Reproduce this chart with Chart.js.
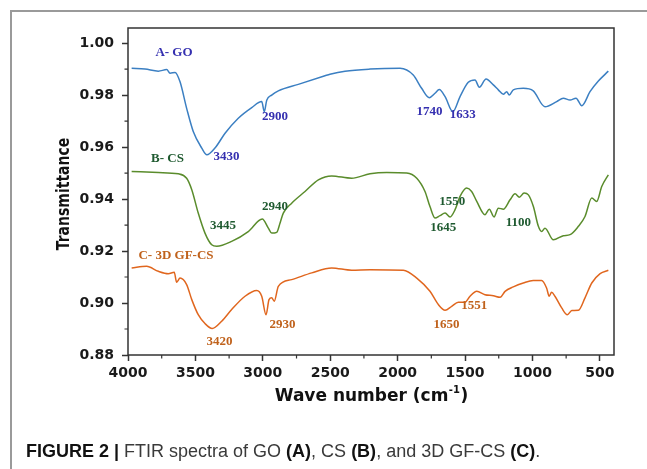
<!DOCTYPE html>
<html>
<head>
<meta charset="utf-8">
<script src="https://cdn.jsdelivr.net/npm/chart.js@4.4.1/dist/chart.umd.min.js"></script>
<style>
  html, body { margin: 0; padding: 0; background: #fff; }
  #wrap { position: relative; width: 647px; height: 469px; overflow: hidden; }
  #frame { position: absolute; left: 10px; top: 10px; width: 700px; height: 500px;
           border-top: 2px solid #9a9a9a; border-left: 2px solid #9a9a9a; }
  #ftir { position: absolute; left: 0; top: 0; }
  #caption { position: absolute; left: 26px; top: 442px; font: 18px "Liberation Sans", Arial, sans-serif;
             line-height: 18px; color: #3a3a3a; white-space: nowrap; }
  #caption b { color: #111; }
</style>
</head>
<body>
<div id="wrap">
  <div id="frame"></div>
  <canvas id="ftir" width="647" height="469"></canvas>
  <div id="caption"><b>FIGURE 2 |</b> FTIR spectra of GO <b>(A)</b>, CS <b>(B)</b>, and 3D GF-CS <b>(C)</b>.</div>
</div>
<script>
// wave numbers (cm-1) and transmittance for each spectrum
const goWave = [3973, 3874, 3775, 3713, 3688, 3651, 3614, 3565, 3516, 3453,
  3415, 3355, 3280, 3182, 3082, 3008, 2989, 2971, 2934, 2885,
  2737, 2539, 2502, 2390, 2205, 1982, 1884, 1822, 1765, 1723,
  1691, 1648, 1590, 1537, 1476, 1426, 1394, 1344, 1290, 1253,
  1216, 1191, 1172, 1142, 1068, 994, 907, 820, 771, 721,
  677, 634, 573, 511, 437];
const goT = [0.9903, 0.9900, 0.9892, 0.9898, 0.9884, 0.9887, 0.9851, 0.9749, 0.9660, 0.9596,
  0.9570, 0.9596, 0.9653, 0.9711, 0.9752, 0.9775, 0.9736, 0.9780, 0.9800, 0.9816,
  0.9841, 0.9874, 0.9880, 0.9892, 0.9900, 0.9903, 0.9877, 0.9826, 0.9790, 0.9807,
  0.9821, 0.9794, 0.9736, 0.9794, 0.9849, 0.9858, 0.9830, 0.9862, 0.9839, 0.9820,
  0.9803, 0.9813, 0.9800, 0.9820, 0.9826, 0.9816, 0.9755, 0.9775, 0.9788, 0.9781,
  0.9788, 0.9759, 0.9813, 0.9854, 0.9892];

const csWave = [3973, 3775, 3627, 3565, 3527, 3479, 3429, 3379, 3342, 3231,
  3108, 3004, 2959, 2934, 2897, 2872, 2848, 2786, 2687, 2588,
  2489, 2341, 2205, 2081, 1933, 1858, 1797, 1760, 1723, 1686,
  1648, 1611, 1574, 1537, 1488, 1451, 1413, 1352, 1320, 1285,
  1253, 1216, 1166, 1129, 1097, 1062, 1030, 993, 956, 932,
  907, 845, 771, 721, 659, 610, 560, 523, 486, 437];
const csT = [0.9506, 0.9502, 0.9497, 0.9480, 0.9436, 0.9346, 0.9269, 0.9224, 0.9218, 0.9237,
  0.9275, 0.9323, 0.9288, 0.9269, 0.9272, 0.9308, 0.9346, 0.9384, 0.9429, 0.9474,
  0.9489, 0.9480, 0.9497, 0.9502, 0.9500, 0.9480, 0.9429, 0.9371, 0.9327, 0.9336,
  0.9346, 0.9331, 0.9359, 0.9410, 0.9442, 0.9429, 0.9391, 0.9340, 0.9361, 0.9331,
  0.9365, 0.9361, 0.9397, 0.9420, 0.9407, 0.9423, 0.9416, 0.9371, 0.9295, 0.9275,
  0.9288, 0.9243, 0.9259, 0.9263, 0.9295, 0.9333, 0.9404, 0.9391, 0.9448, 0.9493];

const gfWave = [3973, 3862, 3775, 3701, 3657, 3639, 3614, 3565, 3527, 3479,
  3429, 3375, 3305, 3231, 3132, 3045, 3008, 2976, 2954, 2934,
  2915, 2885, 2786, 2637, 2489, 2341, 2205, 1958, 1858, 1760,
  1698, 1648, 1599, 1550, 1500, 1463, 1413, 1352, 1290, 1240,
  1203, 1142, 1068, 994, 932, 895, 876, 858, 833, 783,
  741, 708, 659, 610, 560, 498, 437];
const gfT = [0.9135, 0.9141, 0.9122, 0.9113, 0.9118, 0.9080, 0.9096, 0.9071, 0.9013, 0.8955,
  0.8921, 0.8902, 0.8930, 0.8975, 0.9026, 0.9048, 0.9026, 0.8955, 0.9013, 0.9020,
  0.9007, 0.9064, 0.9090, 0.9116, 0.9135, 0.9126, 0.9128, 0.9126, 0.9096, 0.9045,
  0.8994, 0.8972, 0.8987, 0.9003, 0.9003, 0.9026, 0.9045, 0.9032, 0.9028, 0.9022,
  0.9045, 0.9062, 0.9077, 0.9087, 0.9087, 0.9058, 0.9026, 0.9041, 0.9026, 0.8981,
  0.8955, 0.8971, 0.8972, 0.9020, 0.9077, 0.9113, 0.9126];

// axis ticks
const xMajor = [500, 1000, 1500, 2000, 2500, 3000, 3500, 4000];
const xMinor = [750, 1250, 1750, 2250, 2750, 3250, 3750];
const yMajor = [0.88, 0.90, 0.92, 0.94, 0.96, 0.98, 1.00];
const yMinor = [0.89, 0.91, 0.93, 0.95, 0.97, 0.99];

// spectrum names and peak labels: [text, wave number, transmittance]
const goLabels = [["A- GO", 3659, 0.9965], ["3430", 3270, 0.9562], ["2900", 2910, 0.9716],
  ["1740", 1764, 0.9735], ["1633", 1516, 0.9724]];
const csLabels = [["B- CS", 3707, 0.9555], ["3445", 3296, 0.9297], ["2940", 2910, 0.9370],
  ["1550", 1594, 0.9389], ["1645", 1661, 0.9290], ["1100", 1104, 0.9309]];
const gfLabels = [["C- 3D GF-CS", 3644, 0.9182], ["3420", 3322, 0.8852], ["2930", 2854, 0.8917],
  ["1650", 1638, 0.8917], ["1551", 1431, 0.8990]];

const colors = {
  go: { line: "#3b7fc2", text: "#3530b0" },
  cs: { line: "#5a8c2c", text: "#1f5a30" },
  gf: { line: "#e0661e", text: "#c0621c" }
};

function points(wave, t) {
  return wave.map((w, i) => ({ x: w, y: t[i] }));
}

function spectrum(label, wave, t, color) {
  return {
    label: label,
    data: points(wave, t),
    borderColor: color,
    borderWidth: 1.5,
    pointRadius: 0,
    tension: 0.2,
    cubicInterpolationMode: "monotone",
    fill: false
  };
}

const tickFont = { family: "'DejaVu Sans', sans-serif", size: 14, weight: "bold" };

const decorations = {
  id: "decorations",
  afterDraw(chart) {
    const ctx = chart.ctx;
    const a = chart.chartArea;
    const xs = chart.scales.x, ys = chart.scales.y;
    ctx.save();

    // plot frame
    ctx.strokeStyle = "#333";
    ctx.lineWidth = 1.5;
    ctx.strokeRect(a.left, a.top, a.right - a.left, a.bottom - a.top);

    // minor ticks
    ctx.lineWidth = 1.2;
    ctx.beginPath();
    xMinor.forEach(v => {
      const px = xs.getPixelForValue(v);
      ctx.moveTo(px, a.bottom);
      ctx.lineTo(px, a.bottom + 3.5);
    });
    yMinor.forEach(v => {
      const py = ys.getPixelForValue(v);
      ctx.moveTo(a.left, py);
      ctx.lineTo(a.left - 3.5, py);
    });
    ctx.stroke();

    // peak labels
    ctx.font = "bold 13px 'Liberation Serif', 'Times New Roman', serif";
    ctx.textAlign = "center";
    ctx.textBaseline = "middle";
    [[goLabels, colors.go.text], [csLabels, colors.cs.text], [gfLabels, colors.gf.text]].forEach(([list, c]) => {
      ctx.fillStyle = c;
      list.forEach(([txt, w, t]) => {
        ctx.fillText(txt, xs.getPixelForValue(w), ys.getPixelForValue(t));
      });
    });

    // axis titles
    ctx.fillStyle = "#111";
    ctx.save();
    ctx.translate(64, 194);
    ctx.rotate(-Math.PI / 2);
    ctx.scale(1, 1.3);
    ctx.font = "bold 14px 'DejaVu Sans', sans-serif";
    ctx.textAlign = "center";
    ctx.textBaseline = "middle";
    ctx.fillText("Transmittance", 0, 0);
    ctx.restore();

    const main = "Wave number (cm";
    const sup = "-1";
    const close = ")";
    const big = "bold 17px 'DejaVu Sans', sans-serif";
    const small = "bold 10px 'DejaVu Sans', sans-serif";
    ctx.font = big;
    const w1 = ctx.measureText(main).width;
    const w3 = ctx.measureText(close).width;
    ctx.font = small;
    const w2 = ctx.measureText(sup).width;
    const cx = (a.left + a.right) / 2;
    let x0 = cx - (w1 + w2 + w3) / 2;
    const base = 401;
    ctx.textAlign = "left";
    ctx.textBaseline = "alphabetic";
    ctx.font = big;
    ctx.fillText(main, x0, base);
    ctx.font = small;
    ctx.fillText(sup, x0 + w1 + 0.5, base - 8);
    ctx.font = big;
    ctx.fillText(close, x0 + w1 + w2 + 1, base);

    ctx.restore();
  }
};

new Chart(document.getElementById("ftir"), {
  type: "line",
  data: {
    datasets: [
      spectrum("A- GO", goWave, goT, colors.go.line),
      spectrum("B- CS", csWave, csT, colors.cs.line),
      spectrum("C- 3D GF-CS", gfWave, gfT, colors.gf.line)
    ]
  },
  options: {
    responsive: false,
    animation: false,
    layout: { padding: { top: 28, right: 33, bottom: 84, left: 0 } },
    plugins: {
      legend: { display: false },
      tooltip: { enabled: false }
    },
    scales: {
      x: {
        type: "linear",
        reverse: true,
        min: 395,
        max: 4000,
        afterFit: s => { s.height = 30; },
        afterBuildTicks: s => { s.ticks = xMajor.map(v => ({ value: v })); },
        grid: { drawOnChartArea: false, tickLength: 6, tickColor: "#333", tickWidth: 1.5 },
        border: { display: false },
        ticks: { font: tickFont, color: "#1a1a1a", padding: 4, maxRotation: 0, callback: v => String(v) }
      },
      y: {
        min: 0.88,
        max: 1.0058,
        afterFit: s => { s.width = 128; },
        afterBuildTicks: s => { s.ticks = yMajor.map(v => ({ value: v })); },
        grid: { drawOnChartArea: false, tickLength: 6, tickColor: "#333", tickWidth: 1.5 },
        border: { display: false },
        ticks: { font: tickFont, color: "#1a1a1a", padding: 8, callback: v => v.toFixed(2) }
      }
    }
  },
  plugins: [decorations]
});
</script>
</body>
</html>
